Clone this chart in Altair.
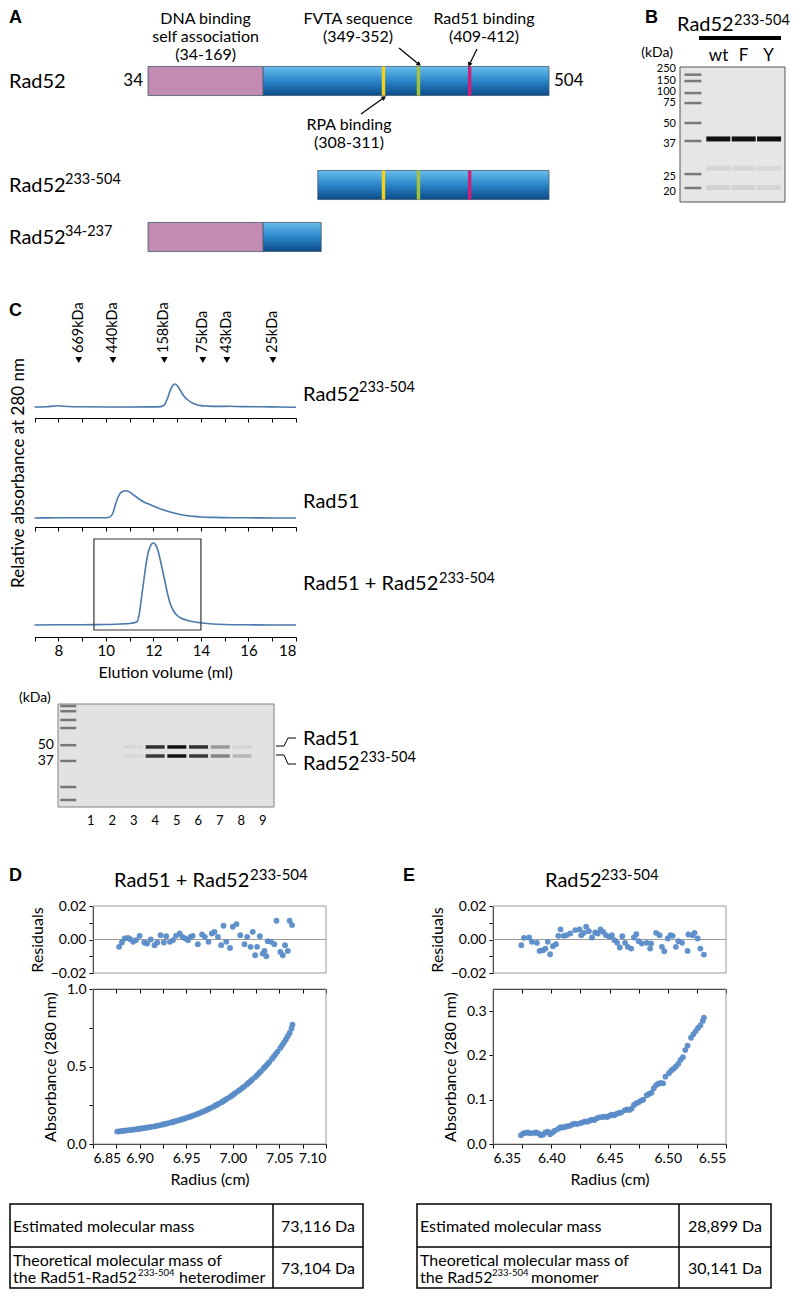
import math
import altair as alt
import pandas as pd

# ---------------- values ----------------
# Panel A : domain architecture (residue numbers)
a_rows = ["Rad52", "Rad52 233-504", "Rad52 34-237"]
a_row_names = ["Rad52", "Rad52", "Rad52"]
a_row_sups = ["", "233-504", "34-237"]
seg_row = ["Rad52", "Rad52", "Rad52 233-504", "Rad52 34-237", "Rad52 34-237"]
seg_start = [34, 169, 233, 34, 169]
seg_end = [169, 504, 504, 169, 237]
seg_kind = ["dna", "core", "core", "dna", "core"]
motif_names = ["RPA binding", "FVTA sequence", "Rad51 binding"]
motif_start = [308, 349, 409]
motif_end = [311, 352, 412]
motif_rows = ["Rad52", "Rad52 233-504"]
domain_label = ["DNA binding", "self association", "(34-169)"]
fvta_label = ["FVTA sequence", "(349-352)"]
rad51_label = ["Rad51 binding", "(409-412)"]
rpa_label = ["RPA binding", "(308-311)"]

# Panel B : SDS gel (relative migration 0 = top of gel, 1 = bottom)
b_lanes = ["M", "wt", "F", "Y"]
b_sample_lanes = ["wt", "F", "Y"]
b_ladder_lane = ["M"] * 8
b_ladder_kda = ["250", "150", "100", "75", "50", "37", "25", "20"]
b_ladder_mig = [0.057, 0.104, 0.193, 0.267, 0.415, 0.548, 0.793, 0.896]
b_label_mig = [0.015, 0.100, 0.185, 0.270, 0.422, 0.570, 0.815, 0.926]
b_band_lane = ["wt", "F", "Y", "wt", "F", "Y", "wt", "F", "Y"]
b_band_mig = [0.533, 0.533, 0.533, 0.75, 0.75, 0.75, 0.893, 0.893, 0.893]
b_band_int = [1.0, 1.0, 1.0, 0.07, 0.07, 0.06, 0.09, 0.09, 0.08]

# Panel C : gel filtration
marker_labels = ["669kDa", "440kDa", "158kDa", "75kDa", "43kDa", "25kDa"]
marker_vol = [8.86, 10.30, 12.46, 14.08, 15.09, 17.03]

t1_vol = [7.0, 7.5, 7.8, 8.0, 8.2, 8.6, 9.0, 10.0, 11.0, 12.0,
          12.3, 12.4, 12.5, 12.6, 12.7, 12.8, 12.9, 13.0, 13.1, 13.2,
          13.3, 13.45, 13.6, 13.8, 14.0, 14.3, 14.7, 15.2, 15.7, 16.5,
          17.3, 18.0]
t1_abs = [0.0, 0.3, 0.9, 1.2, 0.8, 0.3, 0.2, 0.0, 0.0, 0.1,
          0.4, 1.0, 3.5, 9.0, 16.0, 21.0, 23.0, 21.5, 18.0, 14.0,
          10.5, 7.0, 4.5, 2.5, 1.4, 0.9, 0.6, 0.7, 0.4, 0.2,
          0.0, -0.2]
t2_vol = [7.0, 8.0, 9.0, 9.8, 10.1, 10.2, 10.3, 10.4, 10.5, 10.6,
          10.7, 10.8, 10.9, 11.0, 11.2, 11.4, 11.6, 11.9, 12.2, 12.6,
          13.0, 13.3, 13.7, 14.0, 14.5, 15.0, 16.0, 17.0, 18.0]
t2_abs = [0.0, 0.2, 0.2, 0.3, 0.5, 1.5, 5.0, 13.0, 20.0, 24.5,
          26.5, 27.2, 27.0, 26.0, 22.5, 19.0, 16.0, 13.0, 10.0, 6.7,
          4.2, 2.7, 1.6, 1.0, 0.6, 0.4, 0.2, 0.0, 0.0]
t3_vol = [7.0, 8.0, 9.0, 10.0, 10.6, 11.0, 11.3, 11.4, 11.5, 11.6,
          11.7, 11.8, 11.9, 12.0, 12.1, 12.2, 12.3, 12.4, 12.5, 12.6,
          12.7, 12.85, 13.0, 13.2, 13.45, 13.7, 14.0, 14.5, 15.0, 16.0,
          17.0, 18.0]
t3_abs = [0.0, 0.2, 0.3, 0.5, 1.0, 1.5, 3.0, 10.0, 27.0, 45.0,
          62.0, 74.0, 80.0, 82.0, 80.0, 74.0, 64.0, 53.0, 42.0, 31.0,
          22.0, 14.0, 9.5, 6.5, 4.5, 3.2, 2.2, 1.0, 0.5, 0.2,
          0.0, 0.0]
box_vol = [9.5, 14.0]
box_abs = [-5, 86]
trace_names = ["Rad52", "Rad51", "Rad51 + Rad52"]
trace_sups = ["233-504", "", "233-504"]

c_lanes = ["M", "1", "2", "3", "4", "5", "6", "7", "8", "9"]
c_ladder_lane = ["M"] * 8
c_ladder_mig = [0.02, 0.07, 0.155, 0.233, 0.40, 0.553, 0.806, 0.932]
c_ladder_label = ["", "", "", "", "50", "37", "", ""]
c_band_lane = ["3", "4", "5", "6", "7", "8", "3", "4", "5", "6", "7", "8"]
c_band_mig = [0.417] * 6 + [0.505] * 6
c_band_int = [0.05, 0.85, 1.0, 0.85, 0.35, 0.06, 0.05, 0.8, 1.0, 0.8, 0.45, 0.2]

# Panel D : Rad51 + Rad52(233-504) sedimentation equilibrium
d_res_r = [6.878, 6.881, 6.884, 6.8875, 6.890, 6.893, 6.896, 6.900, 6.905, 6.908,
           6.912, 6.916, 6.919, 6.9225, 6.926, 6.9286, 6.9325, 6.9357, 6.939, 6.943,
           6.946, 6.949, 6.952, 6.9546, 6.957, 6.9625, 6.967, 6.970, 6.974, 6.9775,
           6.9804, 6.984, 6.9875, 6.990, 6.993, 6.997, 7.000, 7.004, 7.008, 7.0125,
           7.0154, 7.019, 7.0214, 7.024, 7.026, 7.029, 7.032, 7.034, 7.036, 7.0375,
           7.041, 7.0446, 7.0468, 7.051, 7.0536, 7.056, 7.059, 7.061, 7.0636]
d_res_v = [-0.0044, -0.0018, 0.0006, 0.0010, 0.0002, -0.0014, -0.0004, 0.0022, -0.0018, -0.0024,
           0.0000, -0.0034, -0.0018, 0.0026, -0.0018, 0.0020, -0.0014, -0.0004, 0.0022, 0.0036,
           0.0016, 0.0006, -0.0004, 0.0016, 0.0022, -0.0028, 0.0030, 0.0016, -0.0014, 0.0036,
           0.0046, 0.0016, -0.0034, 0.0082, -0.0014, -0.0050, 0.0076, 0.0092, 0.0026, -0.0028,
           0.0016, -0.0044, 0.0046, -0.0094, -0.0044, 0.0020, -0.0084, -0.0068, -0.0100, -0.0010,
           -0.0014, -0.0028, 0.0112, -0.0074, -0.0094, -0.0034, -0.0068, 0.0112, 0.0086]
d_abs_r = [6.876, 6.878, 6.880, 6.882, 6.884, 6.886, 6.889, 6.891, 6.893, 6.895,
           6.898, 6.900, 6.902, 6.904, 6.907, 6.909, 6.911, 6.913, 6.916, 6.918,
           6.920, 6.922, 6.925, 6.927, 6.929, 6.931, 6.934, 6.936, 6.938, 6.940,
           6.943, 6.945, 6.947, 6.949, 6.952, 6.954, 6.956, 6.958, 6.961, 6.963,
           6.965, 6.967, 6.970, 6.972, 6.974, 6.976, 6.979, 6.981, 6.983, 6.985,
           6.988, 6.990, 6.992, 6.994, 6.997, 6.999, 7.001, 7.003, 7.006, 7.008,
           7.010, 7.012, 7.015, 7.017, 7.019, 7.021, 7.024, 7.026, 7.028, 7.030,
           7.033, 7.035, 7.037, 7.039, 7.042, 7.044, 7.046, 7.048, 7.051, 7.053,
           7.055, 7.057, 7.059, 7.061, 7.063, 7.064]
d_abs_v = [0.080, 0.082, 0.083, 0.085, 0.086, 0.088, 0.090, 0.091, 0.093, 0.094,
           0.097, 0.099, 0.100, 0.102, 0.105, 0.107, 0.109, 0.111, 0.114, 0.117,
           0.119, 0.122, 0.126, 0.129, 0.132, 0.135, 0.139, 0.142, 0.146, 0.150,
           0.155, 0.158, 0.162, 0.166, 0.172, 0.176, 0.180, 0.185, 0.191, 0.196,
           0.201, 0.207, 0.214, 0.220, 0.226, 0.232, 0.240, 0.247, 0.253, 0.260,
           0.270, 0.278, 0.285, 0.293, 0.304, 0.312, 0.321, 0.330, 0.342, 0.351,
           0.361, 0.370, 0.384, 0.395, 0.405, 0.416, 0.432, 0.444, 0.456, 0.468,
           0.487, 0.500, 0.514, 0.528, 0.549, 0.565, 0.580, 0.596, 0.620, 0.638,
           0.656, 0.675, 0.695, 0.716, 0.745, 0.770]

# Panel E : Rad52(233-504) sedimentation equilibrium
e_res_r = [6.3743, 6.3766, 6.381, 6.3834, 6.3877, 6.390, 6.393, 6.395, 6.397, 6.399,
           6.4014, 6.404, 6.406, 6.408, 6.4106, 6.413, 6.4163, 6.4206, 6.4243, 6.4257,
           6.428, 6.430, 6.4323, 6.435, 6.4377, 6.440, 6.4423, 6.4446, 6.447, 6.450,
           6.452, 6.4543, 6.4566, 6.4589, 6.461, 6.4634, 6.4657, 6.4686, 6.471, 6.473,
           6.475, 6.4777, 6.482, 6.4849, 6.4857, 6.490, 6.493, 6.495, 6.497, 6.500,
           6.5023, 6.5043, 6.507, 6.5091, 6.5123, 6.517, 6.5177, 6.5214, 6.523, 6.5257,
           6.528, 6.531]
e_res_v = [-0.0034, 0.0010, 0.0012, -0.0014, -0.0020, -0.0068, -0.0064, -0.0054, -0.0014, -0.0088,
           -0.0040, -0.0028, 0.0022, 0.0060, 0.0022, 0.0026, 0.0036, 0.0056, 0.0060, 0.0026,
           0.0040, 0.0076, 0.0050, 0.0012, 0.0042, 0.0036, 0.0060, 0.0046, 0.0026, 0.0016,
           0.0026, -0.0004, -0.0020, -0.0048, 0.0020, -0.0020, -0.0044, -0.0054, 0.0012, 0.0032,
           -0.0010, -0.0024, -0.0020, -0.0054, -0.0024, 0.0040, 0.0026, -0.0044, -0.0070, 0.0006,
           0.0026, 0.0022, -0.0044, -0.0010, -0.0020, -0.0068, 0.0030, 0.0026, 0.0040, 0.0006,
           -0.0054, -0.0090]
e_abs_r = [6.374, 6.376, 6.378, 6.380, 6.382, 6.385, 6.387, 6.389, 6.391, 6.393,
           6.395, 6.397, 6.399, 6.401, 6.403, 6.406, 6.408, 6.410, 6.412, 6.414,
           6.416, 6.418, 6.420, 6.422, 6.425, 6.427, 6.429, 6.431, 6.433, 6.435,
           6.437, 6.439, 6.441, 6.444, 6.446, 6.448, 6.450, 6.452, 6.454, 6.456,
           6.458, 6.460, 6.463, 6.465, 6.467, 6.469, 6.471, 6.473, 6.475, 6.477,
           6.479, 6.482, 6.484, 6.486, 6.488, 6.490, 6.492, 6.494, 6.496, 6.498,
           6.501, 6.503, 6.505, 6.507, 6.509, 6.511, 6.513, 6.515, 6.517, 6.520,
           6.522, 6.524, 6.526, 6.528, 6.530, 6.531]
e_abs_v = [0.020, 0.024, 0.025, 0.026, 0.024, 0.025, 0.026, 0.024, 0.020, 0.021,
           0.026, 0.028, 0.022, 0.026, 0.030, 0.034, 0.038, 0.037, 0.039, 0.040,
           0.041, 0.044, 0.046, 0.045, 0.047, 0.049, 0.051, 0.050, 0.053, 0.055,
           0.054, 0.058, 0.060, 0.061, 0.062, 0.061, 0.064, 0.066, 0.065, 0.068,
           0.070, 0.071, 0.076, 0.078, 0.077, 0.080, 0.088, 0.092, 0.094, 0.098,
           0.100, 0.110, 0.113, 0.116, 0.126, 0.133, 0.136, 0.138, 0.137, 0.152,
           0.160, 0.166, 0.170, 0.175, 0.181, 0.190, 0.196, 0.212, 0.222, 0.240,
           0.248, 0.255, 0.262, 0.268, 0.278, 0.285]

d_ticks = [6.85, 6.875, 6.9, 6.925, 6.95, 6.975, 7.0, 7.025, 7.05, 7.075, 7.1]
e_ticks = [6.35, 6.375, 6.4, 6.425, 6.45, 6.475, 6.5, 6.525, 6.55]
res_ticks = [-0.02, -0.01, 0.0, 0.01, 0.02]

# Tables
table_labels = ["Estimated molecular mass", "Theoretical molecular mass of"]
table_d_values = ["73,116 Da", "73,104 Da"]
table_e_values = ["28,899 Da", "30,141 Da"]
table_d_line2 = ["the Rad51-Rad52", "233-504", "heterodimer"]
table_e_line2 = ["the Rad52", "233-504", "monomer"]

# ---------------- styling ----------------
FONT = "Lato"
BOLD = "Liberation Sans"
W = 776
PINK = "#c28bb2"
EDGE = "#40596e"
LINE = "#4a79ab"
PT = "#5a8cc8"
motif_colors = ["#f3d01b", "#a4c23b", "#d0207a"]
BLUE_GRAD = alt.LinearGradient(
    gradient="linear",
    stops=[alt.GradientStop(color="#68bdec", offset=0),
           alt.GradientStop(color="#2a86c8", offset=0.5),
           alt.GradientStop(color="#0b4987", offset=1)],
    x1=0, x2=0, y1=0, y2=1)


def one():
    return alt.Data(values=[{"k": 0}])


def text_at(text, x, y, size=16, align="left", baseline="alphabetic", angle=0,
            bold=False, line_height=0):
    kw = dict(text=text, fontSize=size, align=align, baseline=baseline,
              font=BOLD if bold else FONT, fontWeight="bold" if bold else "normal",
              color="black")
    if angle:
        kw["angle"] = angle
    if line_height:
        kw["lineHeight"] = line_height
    return alt.Chart(one()).mark_text(**kw).encode(x=alt.value(x), y=alt.value(y))


def seg_line(x, y, x2, y2, width=1.0, color="black"):
    return alt.Chart(one()).mark_rule(color=color, strokeWidth=width).encode(
        x=alt.value(x), y=alt.value(y), x2=alt.value(x2), y2=alt.value(y2))


def box(x, y, x2, y2, fill="transparent", stroke="black", width=1.0):
    return alt.Chart(one()).mark_rect(fill=fill, stroke=stroke, strokeWidth=width).encode(
        x=alt.value(x), y=alt.value(y), x2=alt.value(x2), y2=alt.value(y2))


def row(layers, h):
    return alt.layer(*layers).resolve_scale(x="independent", y="independent").properties(
        width=W, height=h)


# ================= Row 1 : panels A and B =================
xA = alt.Scale(domain=[34, 504], range=[139, 540], nice=False, zero=False)
yA = alt.Scale(domain=["Rad52", "gap", "Rad52 233-504", "Rad52 34-237"], range=[46, 254],
               paddingInner=0.44, paddingOuter=0.22)
seg_df = pd.DataFrame({"row": seg_row, "start": seg_start, "end": seg_end, "kind": seg_kind})
motif_df = pd.DataFrame([{"row": r, "name": n, "start": s, "end": e + 1}
                         for r in motif_rows
                         for n, s, e in zip(motif_names, motif_start, motif_end)])
rows_df = pd.DataFrame({"row": a_rows, "name": a_row_names, "sup": a_row_sups})
ends_df = pd.DataFrame({"row": ["Rad52", "Rad52"],
                        "res": [min(seg_start), max(seg_end)]})
ends_df["label"] = ends_df["res"].astype(str)


def bars(kind, fill):
    return alt.Chart(seg_df[seg_df.kind == kind]).mark_bar(
        fill=fill, stroke=EDGE, strokeWidth=0.8).encode(
        x=alt.X("start:Q", scale=xA, axis=None), x2="end:Q",
        y=alt.Y("row:N", scale=yA, axis=None))


motifs = alt.Chart(motif_df).mark_bar().encode(
    x=alt.X("start:Q", scale=xA, axis=None), x2="end:Q",
    y=alt.Y("row:N", scale=yA, axis=None),
    color=alt.Color("name:N", scale=alt.Scale(domain=motif_names, range=motif_colors), legend=None))

end_left = alt.Chart(ends_df.iloc[[0]]).mark_text(
    align="right", baseline="middle", dx=-5, fontSize=17, font=FONT).encode(
    x=alt.X("res:Q", scale=xA, axis=None), y=alt.Y("row:N", scale=yA, axis=None), text="label:N")
end_right = alt.Chart(ends_df.iloc[[1]]).mark_text(
    align="left", baseline="middle", dx=5, fontSize=17, font=FONT).encode(
    x=alt.X("res:Q", scale=xA, axis=None), y=alt.Y("row:N", scale=yA, axis=None), text="label:N")

row_main = alt.Chart(rows_df).mark_text(align="left", baseline="middle", dy=1, fontSize=20,
                                        font=FONT).encode(
    x=alt.value(0), y=alt.Y("row:N", scale=yA, axis=None), text="name:N")
row_sup = alt.Chart(rows_df).mark_text(align="left", baseline="middle", dy=-5, fontSize=14.5,
                                       font=FONT).encode(
    x=alt.value(56), y=alt.Y("row:N", scale=yA, axis=None), text="sup:N")

dna_lbl = alt.Chart(one()).mark_text(
    text=domain_label, align="center", baseline="alphabetic", fontSize=16, font=FONT,
    lineHeight=18).encode(
    x=alt.XDatum((seg_start[0] + seg_end[0]) / 2, type="quantitative", scale=xA, axis=None),
    y=alt.value(15))


def arrow(res, tip_y, tail_x, tail_y):
    tip_px = 139 + (res - 34) * (540 - 139) / (504 - 34)
    ang = math.degrees(math.atan2(tip_px - tail_x, -(tip_y - tail_y))) % 360
    xd = alt.XDatum(res, type="quantitative", scale=xA, axis=None)
    ln = alt.Chart(one()).mark_rule(color="black", strokeWidth=1.2).encode(
        x=xd, y=alt.value(tip_y), x2=alt.value(tail_x), y2=alt.value(tail_y))
    hd = alt.Chart(one()).mark_point(shape="triangle", filled=True, size=26, color="black",
                                     opacity=1, angle=ang).encode(x=xd, y=alt.value(tip_y))
    return [ln, hd]


mid = [(s + e + 1) / 2 for s, e in zip(motif_start, motif_end)]

# panel B gel
xB = alt.Scale(domain=b_lanes, range=[672, 772], paddingInner=0.06, paddingOuter=0)
yB = alt.Scale(domain=[0, 1], range=[58, 193], nice=False, zero=False)
b_ladder_df = pd.DataFrame({"lane": b_ladder_lane, "kda": b_ladder_kda, "mig": b_ladder_mig,
                            "lmig": b_label_mig})
b_band_df = pd.DataFrame({"lane": b_band_lane, "mig": b_band_mig, "int": b_band_int})
b_lane_df = pd.DataFrame({"lane": b_sample_lanes})

b_ladder = alt.Chart(b_ladder_df).mark_tick(thickness=2.5, size=17, color="#4a4a4a").encode(
    x=alt.X("lane:N", scale=xB, axis=None), y=alt.Y("mig:Q", scale=yB, axis=None))
b_bands = alt.Chart(b_band_df).mark_tick(thickness=5, size=24, color="#111111").encode(
    x=alt.X("lane:N", scale=xB, axis=None), y=alt.Y("mig:Q", scale=yB, axis=None),
    opacity=alt.Opacity("int:Q", scale=None))
b_ladder_lbl = alt.Chart(b_ladder_df).mark_text(align="right", baseline="middle", fontSize=11,
                                                font=FONT).encode(
    x=alt.value(667), y=alt.Y("lmig:Q", scale=yB, axis=None), text="kda:N")
b_lane_lbl = alt.Chart(b_lane_df).mark_text(align="center", baseline="alphabetic", fontSize=17,
                                            font=FONT).encode(
    x=alt.X("lane:N", scale=xB, axis=None), y=alt.value(52), text="lane:N")

row1_layers = [
    text_at("A", 0, 9, size=18, baseline="middle", bold=True),
    dna_lbl,
    text_at(fvta_label, 349, 15, size=16, align="center", line_height=18),
    text_at(rad51_label, 475, 15, size=16, align="center", line_height=18),
    text_at(rpa_label, 340, 121, size=16, align="center", line_height=18),
    *arrow(mid[1], 55, 390, 39),
    *arrow(mid[2], 55, 468, 40),
    *arrow(mid[0], 89, 352, 105),
    bars("dna", PINK), bars("core", BLUE_GRAD), motifs,
    end_left, end_right, row_main, row_sup,
    text_at("B", 636, 9, size=18, baseline="middle", bold=True),
    text_at("Rad52", 668, 22, size=20),
    text_at("233-504", 725, 16, size=14.5),
    seg_line(690, 29, 772, 29, width=4),
    text_at("(kDa)", 664, 48, size=14, align="right"),
    b_lane_lbl,
    box(671, 58, 776, 193, fill="#e6e6e6", stroke="#555555"),
    b_ladder, b_bands, b_ladder_lbl,
]
row1 = row(row1_layers, 254)

# ================= Rows 2-4 : chromatograms =================
xC = alt.Scale(domain=[7, 18], range=[25.5, 287], nice=False, zero=False)
ml_ticks = list(range(7, 19))


def trace(vol, val, ydom, h, bottom=False):
    df = pd.DataFrame({"vol": vol, "abs": val})
    if bottom:
        ax = alt.Axis(values=ml_ticks, tickSize=4, grid=False, orient="bottom",
                      labelExpr="datum.value % 2 == 0 ? datum.label : ''",
                      labelFontSize=15, labelPadding=2, title="Elution volume (ml)",
                      titlePadding=6)
    else:
        ax = alt.Axis(values=ml_ticks, tickSize=4, grid=False, orient="bottom",
                      labels=False, title=None)
    return alt.Chart(df).mark_line(color=LINE, strokeWidth=1.6, interpolate="monotone").encode(
        x=alt.X("vol:Q", scale=xC, axis=ax),
        y=alt.Y("abs:Q", scale=alt.Scale(domain=ydom, range=[h, 0], nice=False, zero=False),
                axis=None))


marker_df = pd.DataFrame({"vol": marker_vol, "label": marker_labels})
markers_tri = alt.Chart(marker_df).mark_point(shape="triangle-down", filled=True, size=45,
                                              color="black", opacity=1).encode(
    x=alt.X("vol:Q", scale=xC, axis=None), y=alt.value(97))
markers_lbl = alt.Chart(marker_df).mark_text(angle=270, align="left", baseline="middle",
                                             fontSize=14.5, font=FONT).encode(
    x=alt.X("vol:Q", scale=xC, axis=None), y=alt.value(90), text="label:N")

row2 = row([
    text_at("C", 0, 48, size=18, baseline="middle", bold=True),
    markers_tri, markers_lbl,
    trace(t1_vol, t1_abs, [-11, 144], 155),
    text_at(trace_names[0], 294, 138, size=20),
    text_at(trace_sups[0], 350, 129, size=14.5),
], 155)

row3 = row([
    trace(t2_vol, t2_abs, [-9, 100], 109),
    text_at(trace_names[1], 294, 90, size=20),
    text_at("Relative absorbance at 280 nm", 10, 55, size=17, align="center",
            baseline="middle", angle=270),
], 109)

yC3 = alt.Scale(domain=[-12, 98], range=[110, 0], nice=False, zero=False)
box_c = alt.Chart(one()).mark_rect(fill="transparent", stroke="#333333", strokeWidth=1.2).encode(
    x=alt.XDatum(box_vol[0], type="quantitative", scale=xC, axis=None),
    x2=alt.X2Datum(box_vol[1]),
    y=alt.YDatum(box_abs[0], type="quantitative", scale=yC3, axis=None),
    y2=alt.Y2Datum(box_abs[1]))
row4 = row([
    trace(t3_vol, t3_abs, [-12, 98], 110, bottom=True),
    box_c,
    text_at(trace_names[2], 294, 63, size=20),
    text_at(trace_sups[2], 430, 56, size=14.5),
], 110)

# ================= Row 5 : gel of fractions =================
xG = alt.Scale(domain=c_lanes, range=[49.5, 264.5], paddingInner=0.1, paddingOuter=0)
yG = alt.Scale(domain=[0, 1], range=[67, 170], nice=False, zero=False)
c_ladder_df = pd.DataFrame({"lane": c_ladder_lane, "mig": c_ladder_mig, "label": c_ladder_label})
c_band_df = pd.DataFrame({"lane": c_band_lane, "mig": c_band_mig, "int": c_band_int})
c_lane_df = pd.DataFrame({"lane": c_lanes[1:]})

c_ladder = alt.Chart(c_ladder_df).mark_tick(thickness=2.5, size=16, color="#4a4a4a").encode(
    x=alt.X("lane:N", scale=xG, axis=None), y=alt.Y("mig:Q", scale=yG, axis=None))
c_bands = alt.Chart(c_band_df).mark_tick(thickness=3.5, size=19, color="#111111").encode(
    x=alt.X("lane:N", scale=xG, axis=None), y=alt.Y("mig:Q", scale=yG, axis=None),
    opacity=alt.Opacity("int:Q", scale=None))
c_ladder_lbl = alt.Chart(c_ladder_df[c_ladder_df.label != ""]).mark_text(
    align="right", baseline="middle", fontSize=14, font=FONT).encode(
    x=alt.value(45), y=alt.Y("mig:Q", scale=yG, axis=None), text="label:N")
c_lane_lbl = alt.Chart(c_lane_df).mark_text(align="center", baseline="middle", fontSize=13,
                                            font=FONT).encode(
    x=alt.X("lane:N", scale=xG, axis=None), y=alt.value(184), text="lane:N")

row5 = row([
    box(49, 67, 265, 170, fill="#e2e2e2", stroke="#808080"),
    c_ladder, c_bands, c_ladder_lbl, c_lane_lbl,
    text_at("(kDa)", 10, 61, size=14, baseline="middle"),
    seg_line(267, 109, 275, 109), seg_line(275, 109, 279, 101), seg_line(279, 101, 287, 101),
    seg_line(267, 118, 275, 118), seg_line(275, 118, 279, 127), seg_line(279, 127, 287, 127),
    text_at("Rad51", 294, 108, size=20),
    text_at("Rad52", 294, 133, size=20),
    text_at("233-504", 351, 125, size=14.5),
], 269)

# ================= Rows 6-7 : AUC plots =================
xD = alt.Scale(domain=[6.85, 7.10], range=[84, 317], nice=False, zero=False)
xE = alt.Scale(domain=[6.35, 6.55], range=[484, 717], nice=False, zero=False)
yR = alt.Scale(domain=[-0.02, 0.02], range=[67, 0], nice=False, zero=False)
yDA = alt.Scale(domain=[0, 1.0], range=[155, 0], nice=False, zero=False)
yEA = alt.Scale(domain=[0, 0.35], range=[155, 0], nice=False, zero=False)


def frame(xs, x0, x1, ys, y0, y1):
    return alt.Chart(one()).mark_rect(fill="transparent", stroke="#9a9a9a", strokeWidth=1).encode(
        x=alt.XDatum(x0, type="quantitative", scale=xs, axis=None), x2=alt.X2Datum(x1),
        y=alt.YDatum(y0, type="quantitative", scale=ys, axis=None), y2=alt.Y2Datum(y1))


def zero_line(xs, x0, x1):
    return alt.Chart(one()).mark_rule(color="#9a9a9a", strokeWidth=1).encode(
        x=alt.XDatum(x0, type="quantitative", scale=xs, axis=None), x2=alt.X2Datum(x1),
        y=alt.YDatum(0, type="quantitative", scale=yR, axis=None))


def scatter(r, v, xs, ys, xticks, xlabels, yaxis):
    df = pd.DataFrame({"r": r, "v": v})
    if xlabels:
        xax = alt.Axis(values=xticks, format=".2f", tickSize=4, grid=False, orient="bottom",
                       labelExpr="abs(round(datum.value * 1000) % 50) < 1 ? datum.label : ''",
                       labelPadding=3, title="Radius (cm)", titlePadding=6)
    else:
        xax = alt.Axis(values=xticks, labels=False, tickSize=4, grid=False, orient="bottom",
                       title=None)
    return alt.Chart(df).mark_circle(size=34, color=PT, opacity=0.95).encode(
        x=alt.X("r:Q", scale=xs, axis=xax),
        y=alt.Y("v:Q", scale=ys, axis=yaxis))


def res_axis(off):
    return alt.Axis(values=res_ticks, format=".2f", orient="left", offset=off, tickSize=4,
                    grid=False, labelPadding=3, title="Residuals", titlePadding=5,
                    labelExpr="abs(datum.value) > 0.015 || abs(datum.value) < 0.005 ? datum.label : ''")


row6 = row([
    text_at("D", 0, -25, size=18, bold=True),
    text_at("Rad51 + Rad52", 105, -19, size=20),
    text_at("233-504", 241, -26, size=15),
    text_at("E", 394, -25, size=18, bold=True),
    text_at("Rad52", 536, -19, size=20),
    text_at("233-504", 592, -26, size=15),
    frame(xD, 6.85, 7.10, yR, -0.02, 0.02), zero_line(xD, 6.85, 7.10),
    frame(xE, 6.35, 6.55, yR, -0.02, 0.02), zero_line(xE, 6.35, 6.55),
    scatter(d_res_r, d_res_v, xD, yR, d_ticks, False, res_axis(-84)),
    scatter(e_res_r, e_res_v, xE, yR, e_ticks, False, res_axis(-484)),
], 83)

absD_axis = alt.Axis(values=[0, 0.25, 0.5, 0.75, 1.0], format=".1f", orient="left", offset=-84,
                     tickSize=4, grid=False, labelPadding=3, title="Absorbance (280 nm)",
                     titlePadding=8,
                     labelExpr="(datum.value * 4) % 2 == 0 ? datum.label : ''")
absE_axis = alt.Axis(values=[0, 0.1, 0.2, 0.3], format=".1f", orient="left", offset=-484,
                     tickSize=4, grid=False, labelPadding=3, title="Absorbance (280 nm)",
                     titlePadding=8)
row7 = row([
    frame(xD, 6.85, 7.10, yDA, 0, 1.0),
    frame(xE, 6.35, 6.55, yEA, 0, 0.35),
    scatter(d_abs_r, d_abs_v, xD, yDA, d_ticks, True, absD_axis),
    scatter(e_abs_r, e_abs_v, xE, yEA, e_ticks, True, absE_axis),
], 155)


# ================= Row 8 : tables =================
def table(x0, xsep, x1, values, line2, sup_x, tail_x):
    cx = (xsep + x1) / 2
    return [
        box(x0, 60, x1, 144, stroke="black", width=1.5),
        seg_line(xsep, 60, xsep, 144, width=1.5),
        seg_line(x0, 103, x1, 103, width=1.5),
        text_at(table_labels[0], x0 + 3, 88, size=16),
        text_at(values[0], cx, 88, size=16, align="center"),
        text_at(table_labels[1], x0 + 3, 122, size=16),
        text_at(line2[0], x0 + 3, 139, size=16),
        text_at(line2[1], sup_x, 132, size=9.5),
        text_at(line2[2], tail_x, 139, size=16),
        text_at(values[1], cx, 130, size=16, align="center"),
    ]


row8 = row(table(1, 264, 354, table_d_values, table_d_line2, 129, 170)
           + table(408, 670, 762, table_e_values, table_e_line2, 483, 522), 144)

chart = alt.vconcat(row1, row2, row3, row4, row5, row6, row7, row8,
                    spacing=0, bounds="flush").properties(padding=0).configure(
    font=FONT).configure_view(stroke="transparent").configure_axis(
    labelFont=FONT, titleFont=FONT, labelFontSize=14, titleFontSize=16,
    titleFontWeight="normal", labelColor="black", titleColor="black",
    domainColor="black", tickColor="black", grid=False)

chart.save("out.html", embed_options={"renderer": "svg", "actions": False})
